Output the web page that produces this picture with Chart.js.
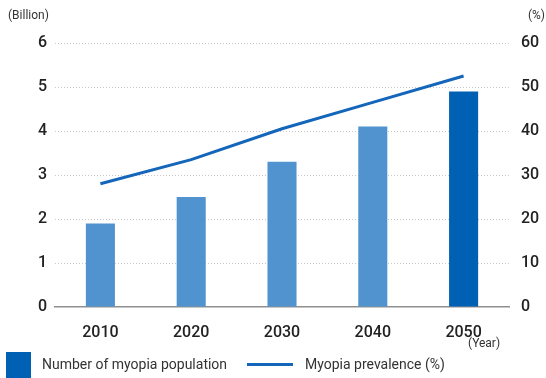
<!DOCTYPE html>
<html>
<head>
<meta charset="utf-8">
<script src="https://cdn.jsdelivr.net/npm/chart.js@4"></script>
<style>
    html, body { margin: 0; padding: 0; background: #fff; }
    #wrap { position: relative; width: 546px; height: 378px; overflow: hidden; }
    #chart { position: absolute; left: 0; top: 0; }
    .legend-item { position: absolute; font-family: Roboto, sans-serif; font-size: 14px; color: #333; line-height: 16px; }
    .swatch-bar { position: absolute; left: 6px; top: 352px; width: 25px; height: 26px; background: #0061b4; }
    .swatch-line { position: absolute; left: 247px; top: 363px; width: 46px; height: 3px; background: #1466bb; }
</style>
</head>
<body>
<div id="wrap">
    <canvas id="chart" width="546" height="378"></canvas>
    <div class="swatch-bar"></div>
    <div class="legend-item" style="left:42px; top:356px;">Number of myopia population</div>
    <div class="swatch-line"></div>
    <div class="legend-item" style="left:305px; top:356px;">Myopia prevalence (%)</div>
</div>
<script>
const years = ['2010', '2020', '2030', '2040', '2050'];
const population = [1.9, 2.5, 3.3, 4.1, 4.9];          // billion
const prevalence = [28, 33.5, 40.5, 46.5, 52.5];       // %
const barColors = ['#5093cf', '#5093cf', '#5093cf', '#5093cf', '#0061b4'];

const tickFont = { family: 'Roboto, sans-serif', size: 16, weight: '500' };

// textos das unidades nos cantos do gráfico
const unitLabels = {
    id: 'unitLabels',
    afterDraw(chart) {
        const ctx = chart.ctx;
        ctx.save();
        ctx.fillStyle = '#333';
        ctx.font = '12px Roboto, sans-serif';
        ctx.textBaseline = 'middle';
        ctx.textAlign = 'left';
        ctx.fillText('(Billion)', 8, 16);
        ctx.textAlign = 'right';
        ctx.fillText('(%)', 545, 16);
        ctx.textAlign = 'center';
        ctx.fillText('(Year)', 484, 344);
        ctx.restore();
    }
};

const ctx = document.getElementById('chart').getContext('2d');
new Chart(ctx, {
    data: {
        labels: years,
        datasets: [
            {
                type: 'line',
                label: 'Myopia prevalence (%)',
                data: prevalence,
                yAxisID: 'y2',
                borderColor: '#1466bb',
                borderWidth: 3,
                pointRadius: 0,
                tension: 0,
                order: 0
            },
            {
                type: 'bar',
                label: 'Number of myopia population',
                data: population,
                yAxisID: 'y',
                backgroundColor: barColors,
                categoryPercentage: 1,
                barPercentage: 0.32,
                order: 1
            }
        ]
    },
    options: {
        responsive: false,
        animation: false,
        layout: { padding: { top: 43, bottom: 0, left: 0, right: 0 } },
        plugins: { legend: { display: false }, tooltip: { enabled: false } },
        scales: {
            x: {
                grid: { display: false },
                // linha do zero, sólida
                border: { display: true, color: '#8f8f8f', width: 1.5 },
                ticks: { color: '#222', font: tickFont, padding: 8 },
                afterFit(scale) { scale.height = 71; }
            },
            y: {
                position: 'left',
                min: 0,
                max: 6,
                ticks: { stepSize: 1, color: '#222', font: tickFont, padding: 8 },
                grid: {
                    drawTicks: false,
                    color: (c) => c.tick.value === 0 ? 'rgba(0,0,0,0)' : '#c8c8c8'
                },
                border: { display: false, dash: [1, 2] },
                afterFit(scale) { scale.width = 55; }
            },
            y2: {
                position: 'right',
                min: 0,
                max: 60,
                ticks: { stepSize: 10, color: '#222', font: tickFont, padding: 12 },
                grid: { display: false, drawTicks: false },
                border: { display: false },
                afterFit(scale) { scale.width = 37; }
            }
        }
    },
    plugins: [unitLabels]
});
</script>
</body>
</html>
